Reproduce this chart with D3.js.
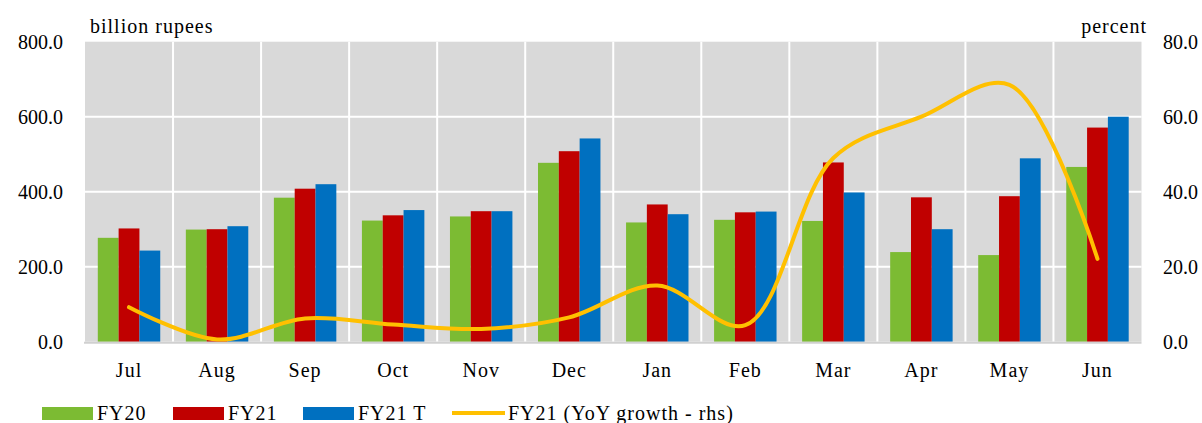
<!DOCTYPE html>
<html>
<head>
<meta charset="utf-8">
<script src="https://cdn.jsdelivr.net/npm/d3@7/dist/d3.min.js"></script>
<style>
  html, body { margin: 0; padding: 0; background: #ffffff; }
  svg { display: block; }
  text { font-family: "Liberation Serif", "DejaVu Serif", serif; fill: #000; }
  .word { letter-spacing: 1px; }
</style>
</head>
<body>
<svg id="chart" width="1202" height="423"></svg>
<script>
// Monthly collections, billion rupees
const months = ["Jul", "Aug", "Sep", "Oct", "Nov", "Dec", "Jan", "Feb", "Mar", "Apr", "May", "Jun"];
const fy20   = [277, 299, 384, 323, 334, 477, 318, 325, 322, 239, 231, 466];
const fy21   = [302, 300, 408, 337, 348, 508, 366, 345, 478, 385, 388, 571];
const fy21T  = [243, 308, 420, 351, 348, 542, 340, 347, 398, 300, 489, 600];
// FY21 year-on-year growth, percent (right-hand scale)
const growth = [9.2, 0.6, 6.2, 4.6, 3.4, 6.5, 15.0, 4.4, 49.0, 60.0, 68.5, 22.1];

const leftTicks  = [0, 200, 400, 600, 800];
const rightTicks = [0, 20, 40, 60, 80];

const seriesNames  = ["FY20", "FY21", "FY21 T"];
const seriesValues = [fy20, fy21, fy21T];
const seriesColors = ["#7cbb33", "#c00000", "#0070c0"];
const lineColor = "#ffc000";
const lineName = "FY21 (YoY growth - rhs)";

const svg = d3.select("#chart");
const plot = { left: 85, right: 1141.5, top: 41.7, bottom: 341.7 };

const x = d3.scaleBand().domain(months).range([plot.left, plot.right]).padding(0);
const xs = d3.scaleBand().domain(seriesNames).range([12.8, x.bandwidth() - 12.8]).padding(0);
const y = d3.scaleLinear().domain([0, 800]).range([plot.bottom, plot.top]);
const yR = d3.scaleLinear().domain([0, 80]).range([plot.bottom, plot.top]);

// plot background
svg.append("rect")
  .attr("x", plot.left).attr("y", plot.top)
  .attr("width", plot.right - plot.left).attr("height", plot.bottom - plot.top)
  .attr("fill", "#d9d9d9");

// horizontal gridlines
svg.append("g").selectAll("line")
  .data(leftTicks.filter(t => t > 0 && t < 800))
  .join("line")
  .attr("x1", plot.left).attr("x2", plot.right)
  .attr("y1", d => y(d)).attr("y2", d => y(d))
  .attr("stroke", "#ffffff").attr("stroke-width", 2);

// vertical separators between months
svg.append("g").selectAll("line")
  .data(months.slice(1))
  .join("line")
  .attr("x1", d => x(d)).attr("x2", d => x(d))
  .attr("y1", plot.top).attr("y2", plot.bottom)
  .attr("stroke", "#ffffff").attr("stroke-width", 2);

// bars
const groups = svg.append("g").selectAll("g")
  .data(months)
  .join("g")
  .attr("transform", d => `translate(${x(d)},0)`);

groups.selectAll("rect")
  .data((m, i) => seriesNames.map((s, k) => ({ s, k, v: seriesValues[k][i] })))
  .join("rect")
  .attr("x", d => xs(d.s))
  .attr("width", xs.bandwidth())
  .attr("y", d => y(d.v))
  .attr("height", d => y(0) - y(d.v))
  .attr("fill", d => seriesColors[d.k]);

// category axis baseline
svg.append("line")
  .attr("x1", plot.left - 1).attr("x2", plot.right)
  .attr("y1", plot.bottom + 1).attr("y2", plot.bottom + 1)
  .attr("stroke", "#d0d0d0").attr("stroke-width", 2);

// growth line (smoothed)
const line = d3.line()
  .x((d, i) => x(months[i]) + x.bandwidth() / 2)
  .y(d => yR(d))
  .curve(d3.curveCatmullRom.alpha(0.5));

svg.append("path")
  .datum(growth)
  .attr("d", line)
  .attr("fill", "none")
  .attr("stroke", lineColor)
  .attr("stroke-width", 4)
  .attr("stroke-linecap", "round")
  .attr("stroke-linejoin", "round");

// left axis labels
const fmt = d3.format(".1f");
svg.append("g").selectAll("text")
  .data(leftTicks)
  .join("text")
  .attr("x", 63).attr("y", d => y(d) + 7)
  .attr("text-anchor", "end")
  .attr("font-size", 20)
  .text(d => fmt(d));

// right axis labels
svg.append("g").selectAll("text")
  .data(rightTicks)
  .join("text")
  .attr("x", 1163).attr("y", d => yR(d) + 7)
  .attr("text-anchor", "start")
  .attr("font-size", 20)
  .text(d => fmt(d));

// month labels
svg.append("g").selectAll("text")
  .data(months)
  .join("text")
  .attr("class", "word")
  .attr("x", d => x(d) + x.bandwidth() / 2)
  .attr("y", 377)
  .attr("text-anchor", "middle")
  .attr("font-size", 20)
  .text(d => d);

// unit labels
svg.append("text").attr("class", "word").attr("x", 90).attr("y", 33).attr("font-size", 20).text("billion rupees");
svg.append("text").attr("class", "word").attr("x", 1147).attr("y", 33).attr("text-anchor", "end").attr("font-size", 20).text("percent");

// legend
const legendItems = [
  { name: seriesNames[0], color: seriesColors[0], type: "rect", x: 42 },
  { name: seriesNames[1], color: seriesColors[1], type: "rect", x: 173 },
  { name: seriesNames[2], color: seriesColors[2], type: "rect", x: 303 },
  { name: lineName, color: lineColor, type: "line", x: 452 }
];
const lg = svg.append("g").selectAll("g")
  .data(legendItems)
  .join("g")
  .attr("transform", d => `translate(${d.x},0)`);

lg.filter(d => d.type === "rect").append("rect")
  .attr("x", 0).attr("y", 407).attr("width", 51).attr("height", 13)
  .attr("fill", d => d.color);
lg.filter(d => d.type === "line").append("line")
  .attr("x1", 0).attr("x2", 53).attr("y1", 413).attr("y2", 413)
  .attr("stroke", d => d.color).attr("stroke-width", 4);
lg.append("text")
  .attr("class", "word")
  .attr("x", d => d.type === "rect" ? 55 : 56)
  .attr("y", 420)
  .attr("font-size", 20)
  .text(d => d.name);
</script>
</body>
</html>
